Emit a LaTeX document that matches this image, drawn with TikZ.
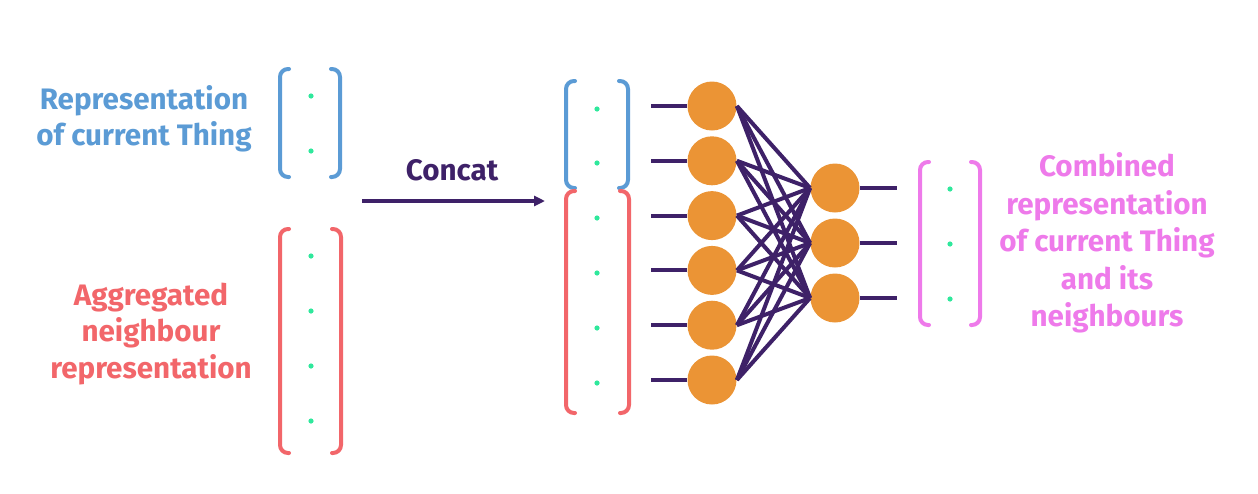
\documentclass[tikz,border=0pt]{standalone}
\usepackage{fontspec}
\setmainfont{Fira Sans}
\usetikzlibrary{arrows.meta}
\definecolor{thingblue}{HTML}{5B9BD5}
\definecolor{neighred}{HTML}{F2666A}
\definecolor{combpink}{HTML}{EE7AEA}
\definecolor{netpurple}{HTML}{3E2168}
\definecolor{unitorange}{HTML}{EB9435}
\definecolor{dotgreen}{HTML}{2FE89C}
\newcommand\colvec[5]{%
  \draw[brk,#5] (#1+9,#3) -- (#1,#3) -- (#1,#4) -- (#1+9,#4);
  \draw[brk,#5] (#2-9,#3) -- (#2,#3) -- (#2,#4) -- (#2-9,#4);}
\begin{document}
\begin{tikzpicture}[x=0.5pt,y=-0.5pt,
    brk/.style={line width=2pt,rounded corners=4pt,line cap=round},
    lbl/.style={align=center,font=\bfseries\fontsize{14.8}{18.2}\selectfont},
    unit/.style={circle,fill=unitorange,minimum size=24.5pt,inner sep=0pt},
    wire/.style={netpurple,line width=2pt}]
                \useasboundingbox (0,0) rectangle (1258,493);
                \colvec{280}{340}{69}{177}{thingblue}
                \colvec{280}{341}{229}{453}{neighred}
                \foreach \y in {96,151,256,311,366,421}
                    \fill[dotgreen] (311,\y) circle (1.3pt);
                \node[lbl,text=thingblue] (cur) at (144,119) {Representation\\of current Thing};
                \node[lbl,text=neighred,font=\bfseries\fontsize{14.8}{18.4}\selectfont] (agg) at (151,334) {Aggregated\\neighbour\\representation};
                \coordinate (c0) at (362,201);
                \coordinate (c1) at (545,201);
                \draw[wire,-{Triangle[length=5.5pt,width=5pt]}] (c0) -- (c1);
                \node[lbl,text=netpurple] (concat) at (452,170) {Concat};
                \colvec{566}{628}{81}{188}{thingblue}
                \colvec{566}{629}{191}{413}{neighred}
                \foreach \y in {109,163,218,273,328,383}
                    \fill[dotgreen] (597,\y) circle (1.3pt);
                \foreach \i in {1,...,6}{
                    \node[unit] (in\i) at (712,106+54.8*\i-54.8) {};
                    \coordinate (a\i) at (651,106+54.8*\i-54.8);
                    \draw[wire] (a\i) -- (in\i.west);}
                \foreach \j in {1,2,3}{
                    \node[unit] (out\j) at (835,188+55*\j-55) {};
                    \coordinate (b\j) at (897,188+55*\j-55);
                    \draw[wire] (out\j.east) -- (b\j);}
                \foreach \i in {1,...,6}
                    \foreach \j in {1,2,3}
                        \draw[wire] (in\i.east) -- (out\j.west);
                \colvec{920}{980}{162}{325}{combpink}
                \foreach \y in {189,244,299}
                    \fill[dotgreen] (950,\y) circle (1.3pt);
                \node[lbl,text=combpink,font=\bfseries\fontsize{14.8}{18.75}\selectfont] (comb) at (1107,243) {Combined\\representation\\of current Thing\\and its\\neighbours};
            \end{tikzpicture}
\end{document}
